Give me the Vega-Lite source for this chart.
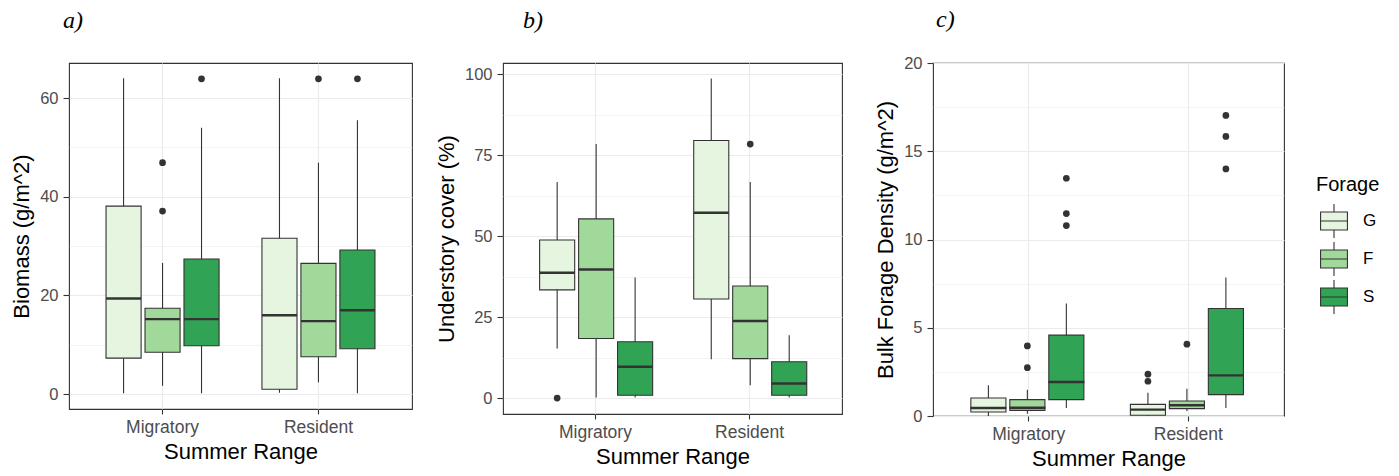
{
  "$schema": "https://vega.github.io/schema/vega-lite/v6.json",
  "padding": {"left": 10, "top": 7, "right": 0, "bottom": 0},
  "background": "white",
  "datasets": {
    "box": [
      {"panel": "a", "Range": "Migratory", "Forage": "G", "lo": 0.2, "q1": 7.3, "med": 19.4, "q3": 38.1, "hi": 64.0},
      {"panel": "a", "Range": "Migratory", "Forage": "F", "lo": 1.7, "q1": 8.5, "med": 15.2, "q3": 17.4, "hi": 26.6},
      {"panel": "a", "Range": "Migratory", "Forage": "S", "lo": 0.2, "q1": 9.8, "med": 15.2, "q3": 27.4, "hi": 54.0},
      {"panel": "a", "Range": "Resident", "Forage": "G", "lo": 0.3, "q1": 1.0, "med": 16.0, "q3": 31.6, "hi": 64.0},
      {"panel": "a", "Range": "Resident", "Forage": "F", "lo": 2.4, "q1": 7.6, "med": 14.8, "q3": 26.5, "hi": 46.9},
      {"panel": "a", "Range": "Resident", "Forage": "S", "lo": 0.2, "q1": 9.2, "med": 17.0, "q3": 29.2, "hi": 55.5},
      {"panel": "b", "Range": "Migratory", "Forage": "G", "lo": 15.3, "q1": 33.4, "med": 38.7, "q3": 48.8, "hi": 66.7},
      {"panel": "b", "Range": "Migratory", "Forage": "F", "lo": 0.2, "q1": 18.4, "med": 39.7, "q3": 55.3, "hi": 78.4},
      {"panel": "b", "Range": "Migratory", "Forage": "S", "lo": 0.2, "q1": 0.9, "med": 9.7, "q3": 17.4, "hi": 37.2},
      {"panel": "b", "Range": "Resident", "Forage": "G", "lo": 12.0, "q1": 30.6, "med": 57.2, "q3": 79.5, "hi": 98.6},
      {"panel": "b", "Range": "Resident", "Forage": "F", "lo": 4.0, "q1": 12.2, "med": 23.8, "q3": 34.6, "hi": 66.7},
      {"panel": "b", "Range": "Resident", "Forage": "S", "lo": 0.2, "q1": 0.9, "med": 4.5, "q3": 11.2, "hi": 19.4},
      {"panel": "c", "Range": "Migratory", "Forage": "G", "lo": 0.0, "q1": 0.23, "med": 0.45, "q3": 1.02, "hi": 1.74},
      {"panel": "c", "Range": "Migratory", "Forage": "F", "lo": 0.13, "q1": 0.32, "med": 0.47, "q3": 0.93, "hi": 1.49},
      {"panel": "c", "Range": "Migratory", "Forage": "S", "lo": 0.45, "q1": 0.93, "med": 1.93, "q3": 4.58, "hi": 6.38},
      {"panel": "c", "Range": "Resident", "Forage": "G", "lo": 0.0, "q1": 0.04, "med": 0.36, "q3": 0.66, "hi": 1.32},
      {"panel": "c", "Range": "Resident", "Forage": "F", "lo": 0.28, "q1": 0.42, "med": 0.61, "q3": 0.85, "hi": 1.55},
      {"panel": "c", "Range": "Resident", "Forage": "S", "lo": 0.45, "q1": 1.21, "med": 2.3, "q3": 6.09, "hi": 7.85}
    ],
    "out": [
      {"panel": "a", "Range": "Migratory", "Forage": "F", "value": 46.9},
      {"panel": "a", "Range": "Migratory", "Forage": "F", "value": 37.1},
      {"panel": "a", "Range": "Migratory", "Forage": "S", "value": 63.9},
      {"panel": "a", "Range": "Resident", "Forage": "F", "value": 63.9},
      {"panel": "a", "Range": "Resident", "Forage": "S", "value": 63.9},
      {"panel": "b", "Range": "Migratory", "Forage": "G", "value": 0.0},
      {"panel": "b", "Range": "Resident", "Forage": "F", "value": 78.4},
      {"panel": "c", "Range": "Migratory", "Forage": "F", "value": 3.97},
      {"panel": "c", "Range": "Migratory", "Forage": "F", "value": 2.74},
      {"panel": "c", "Range": "Migratory", "Forage": "S", "value": 13.47},
      {"panel": "c", "Range": "Migratory", "Forage": "S", "value": 11.47},
      {"panel": "c", "Range": "Migratory", "Forage": "S", "value": 10.79},
      {"panel": "c", "Range": "Resident", "Forage": "G", "value": 2.37},
      {"panel": "c", "Range": "Resident", "Forage": "G", "value": 1.97},
      {"panel": "c", "Range": "Resident", "Forage": "F", "value": 4.07},
      {"panel": "c", "Range": "Resident", "Forage": "S", "value": 17.03},
      {"panel": "c", "Range": "Resident", "Forage": "S", "value": 15.84},
      {"panel": "c", "Range": "Resident", "Forage": "S", "value": 14.0}
    ]
  },
  "bounds": "flush",
  "spacing": 91,
  "hconcat": [
    {
      "width": 343,
      "height": 346,
      "title": {"text": "a)", "anchor": "start", "frame": "group", "dx": -6, "offset": 11, "baseline": "alphabetic"},
      "encoding": {
        "x": {"field": "Range", "type": "nominal", "title": "Summer Range", "scale": {"type": "band", "domain": ["Migratory", "Resident"], "paddingInner": 0.25, "paddingOuter": 0.225}},
        "xOffset": {"field": "Forage", "type": "nominal", "scale": {"type": "band", "domain": ["G", "F", "S"], "paddingInner": 0.1, "paddingOuter": 0.05}}
      },
      "layer": [
        {
          "data": {"name": "box"},
          "transform": [{"filter": "datum.panel === 'a'"}],
          "mark": {"type": "rule", "color": "#333333", "strokeWidth": 1.1},
          "encoding": {
            "y": {"field": "lo", "type": "quantitative", "title": "Biomass (g/m^2)", "scale": {"domain": [-3.0, 67.1], "nice": false, "zero": false},
              "axis": {"values": [0, 10, 20, 30, 40, 50, 60], "labelExpr": "datum.value % 20 === 0 ? datum.label : ''",
                "tickOpacity": {"condition": {"test": "datum.value % 20 !== 0", "value": 0}, "value": 1},
                "gridWidth": {"condition": {"test": "datum.value % 20 !== 0", "value": 0.6}, "value": 1.1}}},
            "y2": {"field": "hi"}
          }
        },
        {
          "data": {"name": "box"},
          "transform": [{"filter": "datum.panel === 'a'"}],
          "mark": {"type": "bar", "stroke": "#333333", "strokeWidth": 1.1},
          "encoding": {
            "y": {"field": "q1", "type": "quantitative", "title": "Biomass (g/m^2)"},
            "y2": {"field": "q3"},
            "fill": {"field": "Forage", "type": "nominal", "title": "Forage", "scale": {"domain": ["G", "F", "S"], "range": ["#e5f5e0", "#a1d99b", "#31a354"]}}
          }
        },
        {
          "data": {"name": "box"},
          "transform": [{"filter": "datum.panel === 'a'"}],
          "mark": {"type": "tick", "color": "#333333", "thickness": 2.4, "size": 35, "opacity": 1},
          "encoding": {"y": {"field": "med", "type": "quantitative", "title": "Biomass (g/m^2)"}}
        },
        {
          "data": {"name": "out"},
          "transform": [{"filter": "datum.panel === 'a'"}],
          "mark": {"type": "circle", "color": "#333333", "size": 45, "opacity": 1},
          "encoding": {"y": {"field": "value", "type": "quantitative", "title": "Biomass (g/m^2)"}}
        }
      ]
    },
    {
      "width": 339,
      "height": 351,
      "title": {"text": "b)", "anchor": "start", "frame": "group", "dx": 20, "offset": 11, "baseline": "alphabetic"},
      "encoding": {
        "x": {"field": "Range", "type": "nominal", "title": "Summer Range", "scale": {"type": "band", "domain": ["Migratory", "Resident"], "paddingInner": 0.25, "paddingOuter": 0.225}},
        "xOffset": {"field": "Forage", "type": "nominal", "scale": {"type": "band", "domain": ["G", "F", "S"], "paddingInner": 0.1, "paddingOuter": 0.05}}
      },
      "layer": [
        {
          "data": {"name": "box"},
          "transform": [{"filter": "datum.panel === 'b'"}],
          "mark": {"type": "rule", "color": "#333333", "strokeWidth": 1.1},
          "encoding": {
            "y": {"field": "lo", "type": "quantitative", "title": "Understory cover (%)", "scale": {"domain": [-4.9, 103.4], "nice": false, "zero": false},
              "axis": {"values": [0, 12.5, 25, 37.5, 50, 62.5, 75, 87.5, 100], "labelExpr": "datum.value % 25 === 0 ? datum.label : ''",
                "tickOpacity": {"condition": {"test": "datum.value % 25 !== 0", "value": 0}, "value": 1},
                "gridWidth": {"condition": {"test": "datum.value % 25 !== 0", "value": 0.6}, "value": 1.1}}},
            "y2": {"field": "hi"}
          }
        },
        {
          "data": {"name": "box"},
          "transform": [{"filter": "datum.panel === 'b'"}],
          "mark": {"type": "bar", "stroke": "#333333", "strokeWidth": 1.1},
          "encoding": {
            "y": {"field": "q1", "type": "quantitative", "title": "Understory cover (%)"},
            "y2": {"field": "q3"},
            "fill": {"field": "Forage", "type": "nominal", "title": "Forage", "scale": {"domain": ["G", "F", "S"], "range": ["#e5f5e0", "#a1d99b", "#31a354"]}}
          }
        },
        {
          "data": {"name": "box"},
          "transform": [{"filter": "datum.panel === 'b'"}],
          "mark": {"type": "tick", "color": "#333333", "thickness": 2.4, "size": 35, "opacity": 1},
          "encoding": {"y": {"field": "med", "type": "quantitative", "title": "Understory cover (%)"}}
        },
        {
          "data": {"name": "out"},
          "transform": [{"filter": "datum.panel === 'b'"}],
          "mark": {"type": "circle", "color": "#333333", "size": 45, "opacity": 1},
          "encoding": {"y": {"field": "value", "type": "quantitative", "title": "Understory cover (%)"}}
        }
      ]
    },
    {
      "width": 351,
      "height": 353,
      "title": {"text": "c)", "anchor": "start", "frame": "group", "dx": 3, "offset": 4, "baseline": "alphabetic"},
      "encoding": {
        "x": {"field": "Range", "type": "nominal", "title": "Summer Range", "scale": {"type": "band", "domain": ["Migratory", "Resident"], "paddingInner": 0.25, "paddingOuter": 0.225}},
        "xOffset": {"field": "Forage", "type": "nominal", "scale": {"type": "band", "domain": ["G", "F", "S"], "paddingInner": 0.1, "paddingOuter": 0.05}}
      },
      "layer": [
        {
          "data": {"name": "box"},
          "transform": [{"filter": "datum.panel === 'c'"}],
          "mark": {"type": "rule", "color": "#333333", "strokeWidth": 1.1},
          "encoding": {
            "y": {"field": "lo", "type": "quantitative", "title": "Bulk Forage Density (g/m^2)", "scale": {"domain": [0, 20], "nice": false, "zero": false},
              "axis": {"values": [0, 2.5, 5, 7.5, 10, 12.5, 15, 17.5, 20], "labelExpr": "datum.value % 5 === 0 ? datum.label : ''",
                "tickOpacity": {"condition": {"test": "datum.value % 5 !== 0", "value": 0}, "value": 1},
                "gridWidth": {"condition": {"test": "datum.value % 5 !== 0", "value": 0.6}, "value": 1.1}}},
            "y2": {"field": "hi"}
          }
        },
        {
          "data": {"name": "box"},
          "transform": [{"filter": "datum.panel === 'c'"}],
          "mark": {"type": "bar", "stroke": "#333333", "strokeWidth": 1.1},
          "encoding": {
            "y": {"field": "q1", "type": "quantitative", "title": "Bulk Forage Density (g/m^2)"},
            "y2": {"field": "q3"},
            "fill": {"field": "Forage", "type": "nominal", "title": "Forage", "scale": {"domain": ["G", "F", "S"], "range": ["#e5f5e0", "#a1d99b", "#31a354"]}}
          }
        },
        {
          "data": {"name": "box"},
          "transform": [{"filter": "datum.panel === 'c'"}],
          "mark": {"type": "tick", "color": "#333333", "thickness": 2.4, "size": 36, "opacity": 1},
          "encoding": {"y": {"field": "med", "type": "quantitative", "title": "Bulk Forage Density (g/m^2)"}}
        },
        {
          "data": {"name": "out"},
          "transform": [{"filter": "datum.panel === 'c'"}],
          "mark": {"type": "circle", "color": "#333333", "size": 45, "opacity": 1},
          "encoding": {"y": {"field": "value", "type": "quantitative", "title": "Bulk Forage Density (g/m^2)"}}
        }
      ]
    }
  ],
  "config": {
    "view": {"stroke": "#333333", "strokeWidth": 1.1},
    "font": "Liberation Sans",
    "axis": {
      "domain": false,
      "grid": true,
      "gridColor": "#ebebeb",
      "tickColor": "#333333",
      "tickWidth": 1.1,
      "labelColor": "#4d4d4d",
      "labelFont": "Liberation Sans",
      "labelFontSize": 16.5,
      "titleFont": "Liberation Sans",
      "titleFontWeight": "normal",
      "titleColor": "#000000",
      "titleFontSize": 22
    },
    "axisX": {"labelAngle": 0, "tickSize": 5, "labelPadding": 4, "titlePadding": 6, "grid": true, "gridWidth": 1.1, "labelFontSize": 17.5},
    "axisY": {"tickSize": 6, "labelPadding": 5, "titlePadding": 6},
    "title": {"font": "Liberation Serif", "fontStyle": "italic", "fontWeight": "normal", "fontSize": 24, "color": "#000000"},
    "legend": {
      "orient": "none",
      "legendX": 1247,
      "legendY": 112,
      "padding": 0,
      "titleFont": "Liberation Sans",
      "titleFontSize": 20,
      "titleFontWeight": "normal",
      "titleColor": "#000000",
      "titlePadding": 8,
      "labelFont": "Liberation Sans",
      "labelFontSize": 17,
      "labelColor": "#000000",
      "labelOffset": 11,
      "symbolType": "M-0.79,-0.53H0.79V0.53H-0.79Z M-0.79,0H0.79 M0,-0.53V-1 M0,0.53V1",
      "symbolSize": 1156,
      "symbolStrokeColor": "#333333",
      "symbolStrokeWidth": 1.1,
      "symbolOpacity": 1,
      "rowPadding": -2
    }
  }
}
